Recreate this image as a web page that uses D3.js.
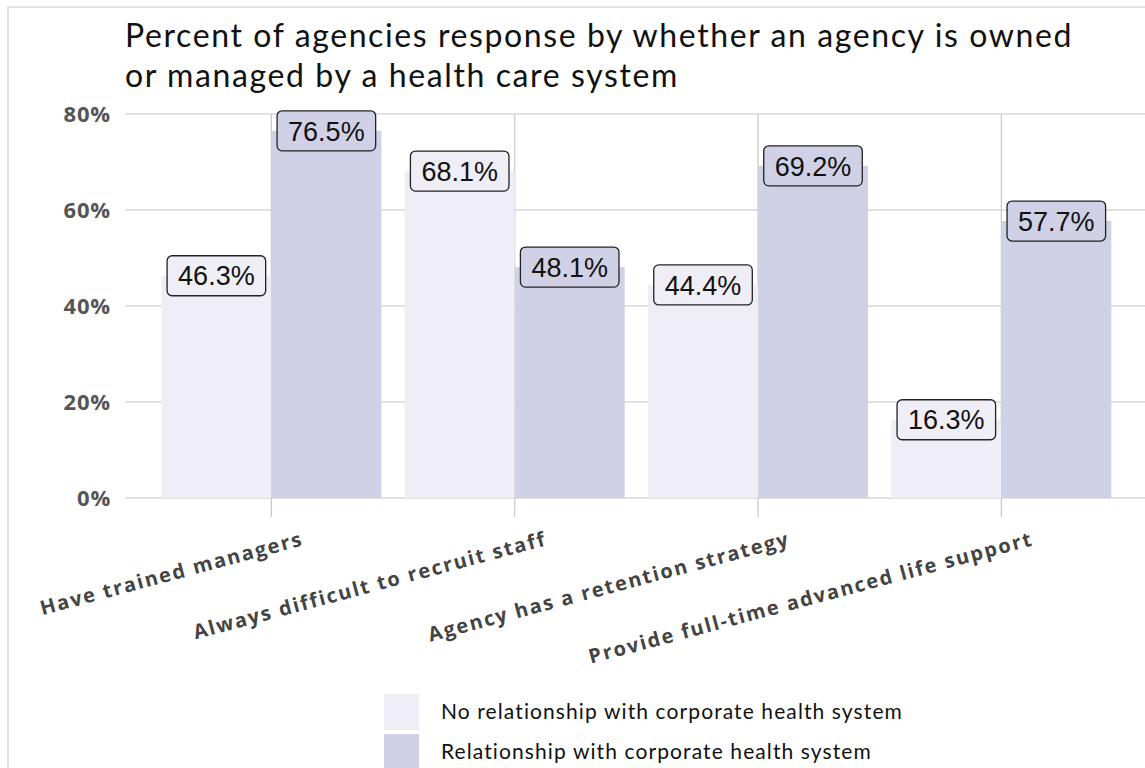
<!DOCTYPE html>
<html>
<head>
<meta charset="utf-8">
<script src="https://cdn.jsdelivr.net/npm/d3@7"></script>
<style>
  body { margin: 0; background: #fff; }
  svg { display: block; }
</style>
</head>
<body>
<svg id="chart" width="1145" height="768"></svg>
<script>
var categories = [
  "Have trained managers",
  "Always difficult to recruit staff",
  "Agency has a retention strategy",
  "Provide full-time advanced life support",
];
var seriesNames = [
  "No relationship with corporate health system",
  "Relationship with corporate health system",
];
var noRelationship = [46.3, 68.1, 44.4, 16.3];
var withRelationship = [76.5, 48.1, 69.2, 57.7];
var yTicks = [0, 20, 40, 60, 80];
var colors = ["#efedf5", "#d0d1e6"];

var svg = d3.select("#chart");

// outer frame (runs off the page on the right and bottom)
svg
  .append("rect")
  .attr("x", 8)
  .attr("y", 7)
  .attr("width", 1200)
  .attr("height", 800)
  .style("fill", "none")
  .style("stroke", "#e3e3e3")
  .style("stroke-width", 2);

var title = svg
  .append("text")
  .attr("x", 125)
  .attr("y", 47)
  .style("font-family", "Lato, sans-serif")
  .style("font-size", "32px")
  .style("letter-spacing", "1.6px")
  .style("fill", "#111");
title.append("tspan").attr("x", 125).text(
  "Percent of agencies response by whether an agency is owned"
);
title
  .append("tspan")
  .attr("x", 125)
  .attr("dy", 40)
  .text("or managed by a health care system");

var x0 = d3
  .scaleBand()
  .domain(categories)
  .range([149.7, 1123])
  .paddingInner(0.0959)
  .paddingOuter(0.048);
var x1 = d3.scaleBand().domain([0, 1]).range([0, x0.bandwidth()]);
var y = d3.scaleLinear().domain([0, 80]).range([498, 114]);

var data = categories.map(function (c, i) {
  return { cat: c, values: [noRelationship[i], withRelationship[i]] };
});

// horizontal gridlines
svg
  .append("g")
  .selectAll("line")
  .data(yTicks)
  .enter()
  .append("line")
  .attr("x1", 125)
  .attr("x2", 1145)
  .attr("y1", function (d) {
    return y(d);
  })
  .attr("y2", function (d) {
    return y(d);
  })
  .style("stroke", "#c4c4c4")
  .style("stroke-width", 1.2);

// vertical lines at category centres
svg
  .append("g")
  .selectAll("line")
  .data(categories)
  .enter()
  .append("line")
  .attr("x1", function (d) {
    return x0(d) + x0.bandwidth() / 2;
  })
  .attr("x2", function (d) {
    return x0(d) + x0.bandwidth() / 2;
  })
  .attr("y1", y(80))
  .attr("y2", 517)
  .style("stroke", "#c8c8c8")
  .style("stroke-width", 1.2);

svg
  .append("g")
  .selectAll("text")
  .data(yTicks)
  .enter()
  .append("text")
  .attr("x", 111)
  .attr("y", function (d) {
    return y(d);
  })
  .attr("dy", "0.36em")
  .attr("text-anchor", "end")
  .style("font-family", "'Open Sans', sans-serif")
  .style("font-weight", "bold")
  .style("font-size", "22px")
  .style("letter-spacing", "0.8px")
  .style("fill", "#555")
  .text(function (d) {
    return d + "%";
  });

var groups = svg
  .append("g")
  .selectAll("g")
  .data(data)
  .enter()
  .append("g")
  .attr("transform", function (d) {
    return "translate(" + x0(d.cat) + ",0)";
  });

groups
  .selectAll("rect")
  .data(function (d) {
    return d.values;
  })
  .enter()
  .append("rect")
  .attr("x", function (d, i) {
    return x1(i);
  })
  .attr("y", function (d) {
    return y(d);
  })
  .attr("width", x1.bandwidth())
  .attr("height", function (d) {
    return y(0) - y(d);
  })
  .style("fill", function (d, i) {
    return colors[i];
  });

// value labels in rounded boxes
var labels = groups
  .selectAll("g.lbl")
  .data(function (d) {
    return d.values;
  })
  .enter()
  .append("g")
  .attr("class", "lbl")
  .attr("transform", function (d, i) {
    return "translate(" + (x1(i) + x1.bandwidth() / 2) + "," + y(d) + ")";
  });

labels.each(function (d, i) {
  var g = d3.select(this);
  var rect = g.append("rect");
  var t = g
    .append("text")
    .attr("text-anchor", "middle")
    .attr("dy", "0.36em")
    .style("font-family", "'Liberation Sans', Arial, sans-serif")
    .style("font-size", "27px")
    .style("fill", "#111")
    .text(d.toFixed(1) + "%");
  var w = t.node().getComputedTextLength() + 22;
  rect
    .attr("x", -w / 2)
    .attr("y", -20)
    .attr("width", w)
    .attr("height", 40)
    .attr("rx", 5)
    .style("fill", colors[i])
    .style("stroke", "#222")
    .style("stroke-width", 1.3);
});

// category labels
svg
  .append("g")
  .selectAll("text")
  .data(categories)
  .enter()
  .append("text")
  .attr("text-anchor", "end")
  .attr("transform", function (d) {
    return (
      "translate(" + (x0(d) + x0.bandwidth() / 2 + 33) + ",545) rotate(-15)"
    );
  })
  .style("font-family", "'Open Sans', sans-serif")
  .style("font-weight", "bold")
  .style("font-size", "20px")
  .style("letter-spacing", "1.8px")
  .style("fill", "#444")
  .text(function (d) {
    return d;
  });

// legend
var legend = svg
  .append("g")
  .selectAll("g")
  .data(seriesNames)
  .enter()
  .append("g")
  .attr("transform", function (d, i) {
    return "translate(384," + (694 + i * 40) + ")";
  });
legend
  .append("rect")
  .attr("width", 35)
  .attr("height", 36)
  .style("fill", function (d, i) {
    return colors[i];
  });
legend
  .append("text")
  .attr("x", 57)
  .attr("y", 18)
  .attr("dy", "0.35em")
  .style("font-family", "Lato, sans-serif")
  .style("font-size", "21px")
  .style("letter-spacing", "1.1px")
  .style("fill", "#111")
  .text(function (d) {
    return d;
  });
</script>
</body>
</html>
